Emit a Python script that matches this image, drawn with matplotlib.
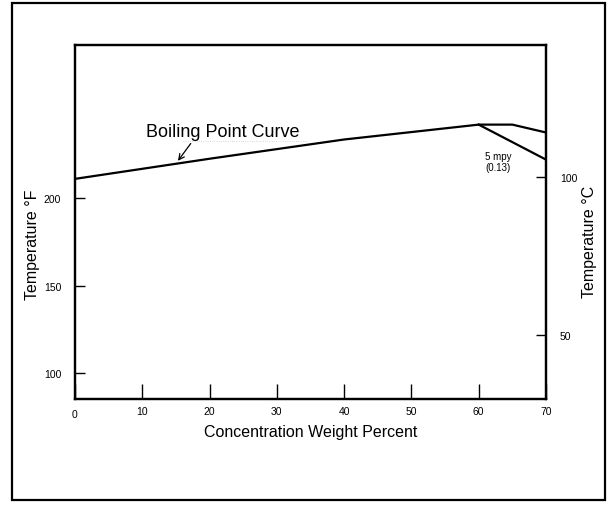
import numpy as np
import matplotlib
matplotlib.use('Agg')
import matplotlib.pyplot as plt
from matplotlib.patches import Rectangle

plt.rcParams['font.family'] = ['Liberation Sans', 'DejaVu Sans']

# boiling point curve (concentration %, temperature F)
conc = [0, 20, 40, 60, 65, 70]
temp_f = [211, 222.5, 233.5, 242, 242, 237.5]
# 5 mpy iso-corrosion line
mpy_conc = [60, 70]
mpy_temp_f = [242, 222]

xticks = [0, 10, 20, 30, 40, 50, 60, 70]
yticks_f = [100, 150, 200]
yticks_c = [50, 100]

fig = plt.figure(figsize=(6.15, 5.06), dpi=100)
fig.patches.append(Rectangle((12 / 615, 5 / 506), 593 / 615, 497 / 506,
                             transform=fig.transFigure, fill=False,
                             edgecolor='black', linewidth=1.6))

ax = fig.add_axes([75 / 615, 1 - 400 / 506, 471 / 615, 354 / 506])
ax.plot(conc, temp_f, color='black', linewidth=1.6)
ax.plot(mpy_conc, mpy_temp_f, color='black', linewidth=1.6)
ax.set_xlim(0, 70)
ymin, ymax = 85.2, 287.5
ax.set_ylim(ymin, ymax)
for s in ax.spines.values():
    s.set_linewidth(1.6)

ax.set_xticks(xticks)
ax.set_xticklabels([str(t) for t in xticks], fontsize=7.5)
ax.tick_params(axis='x', direction='in', length=11, width=1.0, pad=5)
labs = ax.get_xticklabels()
labs[0].set_y(-0.008)
ax.set_yticks(yticks_f)
ax.set_yticklabels([str(t) for t in yticks_f], fontsize=7.5)
ax.tick_params(axis='y', direction='in', length=7, width=1.0, pad=10)
ax.set_xlabel('Concentration Weight Percent', fontsize=11.5, labelpad=4)
ax.set_ylabel('Temperature \u00b0F', fontsize=11.5)
ax.yaxis.set_label_coords(-0.0892, 0.438)
ax.yaxis.label.set_va('center')

ax2 = ax.twinx()
ax2.set_ylim((ymin - 32) / 1.8, (ymax - 32) / 1.8)
ax2.set_yticks(yticks_c)
ax2.set_yticklabels([str(t) for t in yticks_c], fontsize=7.5)
ax2.tick_params(axis='y', direction='in', length=7, width=1.0, pad=10)
ax2.set_ylabel('Temperature \u00b0C', fontsize=11.5)
ax2.yaxis.set_label_coords(1.0913, 0.446)
ax2.yaxis.label.set_va('center')
for s in ax2.spines.values():
    s.set_linewidth(1.6)

ax.text(10.6, 237.8, 'Boiling Point Curve', fontsize=13, ha='left',
        va='center')
ax.annotate('', xy=(15.3, 221.3), xytext=(17.2, 231.2),
            arrowprops=dict(arrowstyle='->', color='black', lw=0.9,
                            shrinkA=0, shrinkB=0))
ax.plot([16, 34.5], [232.8, 232.8], color='#cccccc', linewidth=0.6,
        linestyle=':')
ax.text(62.9, 221, '5 mpy\n(0.13)', fontsize=7, ha='center', va='center',
        linespacing=1.1)

fig.savefig('out.png', dpi=100)
